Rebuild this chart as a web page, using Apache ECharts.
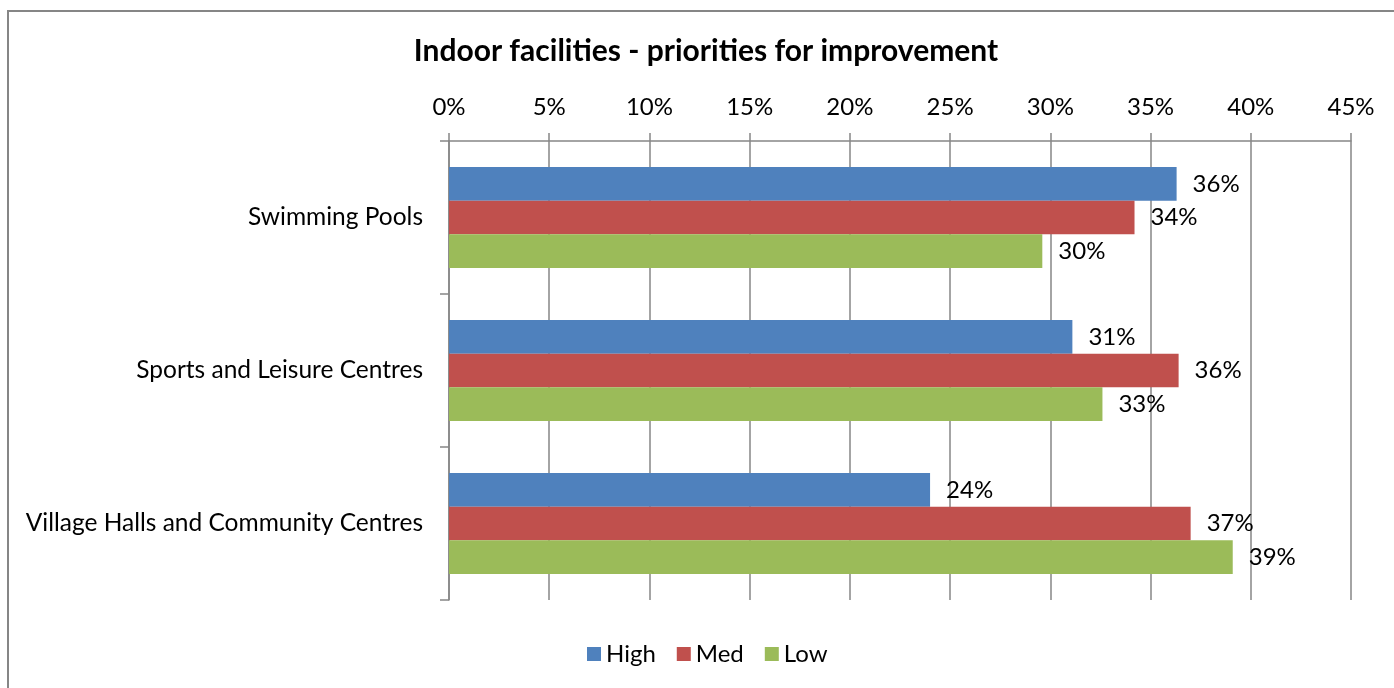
<!DOCTYPE html>
<html>
<head>
<meta charset="utf-8">
<script src="https://cdn.jsdelivr.net/npm/echarts@6/dist/echarts.min.js"></script>
<style>
  html, body { margin: 0; padding: 0; background: #fff; }
  #main { width: 1394px; height: 688px; }
</style>
</head>
<body>
<div id="main"></div>
<script>
  var categories = ['Swimming Pools', 'Sports and Leisure Centres', 'Village Halls and Community Centres']
  var seriesNames = ['High', 'Med', 'Low']
  var highValues = [36.3, 31.1, 24.0]
  var medValues = [34.2, 36.4, 37.0]
  var lowValues = [29.6, 32.6, 39.1]
  var colors = ['#4F81BD', '#C0504D', '#9BBB59']

  var font = 'Lato, "Open Sans", sans-serif'
  var gray = '#868686'

  function makeSeries(name, data, color) {
    return {
      name: name,
      type: 'bar',
      data: data,
      barGap: '0%',
      barCategoryGap: '34%',
      itemStyle: {
        color: color
      },
      label: {
        show: true,
        position: 'right',
        distance: 16,
        color: '#000',
        fontFamily: font,
        fontSize: 24,
        formatter: function (p) {
          return Math.round(p.value) + '%'
        }
      }
    }
  }

  var chart = echarts.init(document.getElementById('main'))
  var option = {
    animation: false,
    color: colors,
    title: {
      text: 'Indoor facilities - priorities for improvement',
      left: 701,
      top: 31,
      textAlign: 'center',
      textStyle: {
        fontFamily: font,
        fontSize: 30,
        fontWeight: 'bold',
        color: '#000'
      }
    },
    legend: {
      data: seriesNames,
      left: 582,
      top: 637,
      icon: 'rect',
      itemWidth: 14,
      itemHeight: 14,
      itemGap: 21,
      textStyle: {
        fontFamily: font,
        fontSize: 24,
        color: '#000'
      }
    },
    grid: {
      left: 449,
      right: 43,
      top: 141,
      bottom: 88
    },
    xAxis: {
      type: 'value',
      position: 'top',
      min: 0,
      max: 45,
      interval: 5,
      axisLine: { show: true, lineStyle: { color: gray, width: 1.5 } },
      axisTick: { show: true, length: 8, lineStyle: { color: gray, width: 1.5 } },
      splitLine: { show: true, lineStyle: { color: gray, width: 1.5 } },
      axisLabel: {
        margin: 22,
        color: '#000',
        fontFamily: font,
        fontSize: 24,
        formatter: '{value}%'
      }
    },
    yAxis: {
      type: 'category',
      inverse: true,
      data: categories,
      axisLine: { show: true, lineStyle: { color: gray, width: 1.5 } },
      axisTick: { show: true, length: 9, lineStyle: { color: gray, width: 1.5 } },
      axisLabel: {
        margin: 26,
        color: '#000',
        fontFamily: font,
        fontSize: 24.5
      }
    },
    graphic: [{
      type: 'rect',
      shape: { x: 8, y: 11, width: 1420, height: 720 },
      style: { fill: 'none', stroke: gray, lineWidth: 2 },
      silent: true
    }],
    series: [
      makeSeries(seriesNames[0], highValues, colors[0]),
      makeSeries(seriesNames[1], medValues, colors[1]),
      makeSeries(seriesNames[2], lowValues, colors[2])
    ]
  }
  chart.setOption(option)
</script>
</body>
</html>
